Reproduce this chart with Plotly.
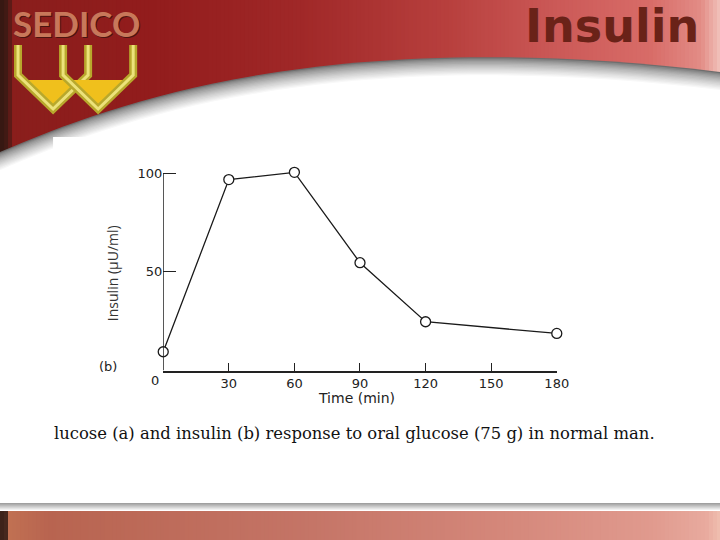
import plotly.graph_objects as go

# Insulin response to oral glucose (75 g), normal man
time_min = [0, 30, 60, 90, 120, 180]
insulin = [9.5, 96.7, 100.4, 54.6, 24.7, 18.8]
x_ticks = [0, 30, 60, 90, 120, 150, 180]
x_ticktext = ['', '30', '60', '90', '120', '150', '180']
y_ticks = [50, 100]
y_ticktext = ['50', '100']

W, H = 720, 540


def px(x):
    return x / W


def py(y):
    return 1 - y / H


def path_from(cmds, close=True):
    """cmds: list of (letter, [(x, y), ...]) in pixel coords -> paper path."""
    out = []
    for letter, pts in cmds:
        if letter == 'L':
            out.extend(f'L {px(x):.5f},{py(y):.5f}' for x, y in pts)
        else:
            coords = ' '.join(f'{px(x):.5f},{py(y):.5f}' for x, y in pts)
            out.append(f'{letter} {coords}')
    return ' '.join(out) + (' Z' if close else '')


def lerp_color(stops, x):
    for (x0, c0), (x1, c1) in zip(stops[:-1], stops[1:]):
        if x0 <= x <= x1:
            t = (x - x0) / (x1 - x0) if x1 > x0 else 0
            return 'rgb(%d,%d,%d)' % tuple(round(a + (b - a) * t) for a, b in zip(c0, c1))
    return 'rgb(%d,%d,%d)' % stops[-1][1]


shapes = []

# header red gradient
header_stops = [(0, (50, 24, 18)), (8, (70, 26, 20)), (14, (138, 30, 28)), (150, (146, 28, 28)),
                (300, (160, 40, 40)), (450, (184, 64, 62)), (560, (204, 90, 88)),
                (650, (216, 108, 104)), (700, (226, 140, 134)), (720, (242, 196, 188))]
for x in range(0, W, 4):
    shapes.append(dict(type='rect', xref='paper', yref='paper', layer='below',
                       x0=px(x), x1=px(x + 6), y0=py(170), y1=py(0),
                       fillcolor=lerp_color(header_stops, x + 2), line=dict(width=0)))

# curved white area with soft shadow
n_shadow = 14
for i in range(n_shadow + 1):
    d = i * 1.3
    t = i / n_shadow
    g = round(110 + (255 - 110) * (t ** 0.7))
    cmds = [('M', [(0, 152 + d)]),
            ('C', [(120, 100 + d), (330, 25 + d), (720, 72 + d)]),
            ('L', [(720, 540), (0, 540)])]
    shapes.append(dict(type='path', xref='paper', yref='paper', layer='below',
                       path=path_from(cmds), fillcolor=f'rgb({g},{g},{g})', line=dict(width=0)))

# scanned figure area
shapes.append(dict(type='rect', xref='paper', yref='paper', layer='below',
                   x0=px(53), x1=px(705), y0=py(470), y1=py(137),
                   fillcolor='white', line=dict(width=0)))

# bottom bar shadow + bar
for i in range(8):
    g = round(160 + (255 - 160) * (i / 7))
    shapes.append(dict(type='rect', xref='paper', yref='paper', layer='below',
                       x0=0, x1=1, y0=py(511), y1=py(511 - 8 + i),
                       fillcolor=f'rgb({g},{g},{g})', line=dict(width=0)))
bar_stops = [(0, (58, 32, 24)), (6, (70, 40, 30)), (10, (192, 112, 82)), (50, (184, 100, 80)),
             (300, (196, 116, 102)), (500, (212, 135, 122)), (650, (224, 154, 142)),
             (705, (232, 170, 158)), (720, (240, 192, 176))]
for x in range(0, W, 4):
    shapes.append(dict(type='rect', xref='paper', yref='paper', layer='below',
                       x0=px(x), x1=px(x + 6), y0=0, y1=py(511),
                       fillcolor=lerp_color(bar_stops, x + 2), line=dict(width=0)))

# logo cups
for dx in (0, 45):
    shapes.append(dict(type='path', xref='paper', yref='paper', layer='below',
                       path=path_from([('M', [(25 + dx, 80)]), ('L', [(82 + dx, 80), (53 + dx, 106)])]),
                       fillcolor='#f0c01c', line=dict(width=0)))
    cup = path_from([('M', [(18 + dx, 45)]),
                     ('L', [(18 + dx, 75), (53 + dx, 109), (88 + dx, 75), (88 + dx, 45)])], close=False)
    shapes.append(dict(type='path', xref='paper', yref='paper', layer='below',
                       path=cup, line=dict(color='#b8a82c', width=8)))
    shapes.append(dict(type='path', xref='paper', yref='paper', layer='below',
                       path=cup, line=dict(color='#ece27a', width=3)))

# y axis line only up to the 100 tick
shapes.append(dict(type='line', xref='x', yref='y', x0=0, x1=0, y0=0, y1=100,
                   line=dict(color='#222', width=1.5)))

fig = go.Figure()

fig.add_trace(go.Scatter(
    x=time_min,
    y=insulin,
    mode='lines+markers',
    line=dict(color='#1a1a1a', width=1.3),
    marker=dict(symbol='circle', size=10, color='white',
                line=dict(color='#1a1a1a', width=1.3)),
    cliponaxis=False,
    hoverinfo='skip',
    showlegend=False
))

axis_font = dict(family='DejaVu Sans', size=13, color='#222')
y_top = 104

fig.update_layout(
    # the capture here comes out ~13px narrower than the page, so widen to fill 720
    width=733,
    height=H,
    margin=dict(l=0, r=0, t=0, b=0),
    paper_bgcolor='white',
    plot_bgcolor='rgba(0,0,0,0)',
    shapes=shapes,
    xaxis=dict(domain=[px(163), px(556)], range=[0, 180], tickvals=x_ticks, ticktext=x_ticktext,
               ticks='inside', ticklen=8, tickwidth=1.3, tickcolor='#222',
               showline=True, linecolor='#222', linewidth=1.5,
               showgrid=False, zeroline=False, tickfont=axis_font, fixedrange=True),
    yaxis=dict(domain=[py(370.5), py(370.5 - 1.974 * y_top)], range=[0, y_top],
               tickvals=y_ticks, ticktext=y_ticktext,
               ticks='inside', ticklen=13, tickwidth=1.3, tickcolor='#222',
               showline=False, showgrid=False, zeroline=False, tickfont=axis_font, fixedrange=True),
)

annotations = [
    dict(text='0', x=px(155), y=py(380), font=axis_font),
    dict(text='Time (min)', x=px(356), y=py(398), font=dict(family='DejaVu Sans', size=14, color='#222')),
    dict(text='Insulin (μU/ml)', x=px(112), y=py(273), textangle=-90,
         font=dict(family='Open Sans', size=14, color='#333')),
    dict(text='(b)', x=px(108), y=py(366), font=dict(family='DejaVu Sans', size=13, color='#222')),
    dict(text='lucose (a) and insulin (b) response to oral glucose (75 g) in normal man.',
         x=px(52), y=py(433), xanchor='left',
         font=dict(family='DejaVu Serif', size=16.4, color='#111')),
    # header texts
    dict(text='<b>SEDICO</b>', x=px(77), y=py(24),
         font=dict(family='Lato', size=35, color='#4a1410')),
    dict(text='<b>SEDICO</b>', x=px(76), y=py(23),
         font=dict(family='Lato', size=35, color='#c8785a')),
    dict(text='<b>Insulin</b>', x=px(611), y=py(26),
         font=dict(family='DejaVu Sans', size=46, color='#6a2218')),
]
for a in annotations:
    a.setdefault('xref', 'paper')
    a.setdefault('yref', 'paper')
    a.setdefault('showarrow', False)
    a.setdefault('xanchor', 'center')
    a.setdefault('yanchor', 'middle')
fig.update_layout(annotations=annotations)

fig.write_html("out.html", config={'displayModeBar': False},
               post_script="document.body.style.margin = '0'; document.body.style.overflow = 'hidden';")
